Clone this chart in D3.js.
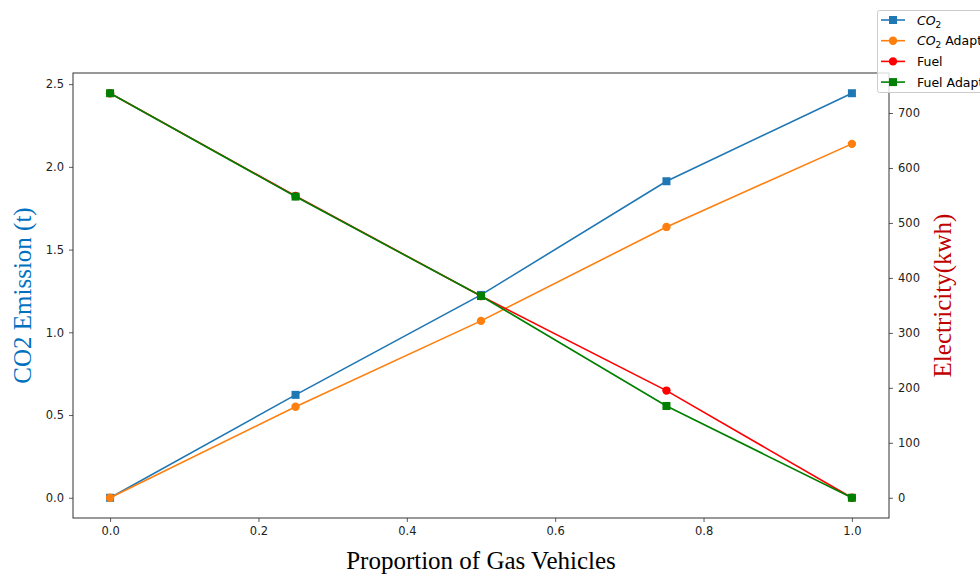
<!DOCTYPE html>
<html>
<head>
<meta charset="utf-8">
<script src="https://cdn.jsdelivr.net/npm/d3@7"></script>
<style>
  body { margin: 0; background: #fff; }
  svg { display: block; }
  .tick text { font-family: "DejaVu Sans", sans-serif; font-size: 11.5px; fill: #222; }
</style>
</head>
<body>
<svg id="chart" width="980" height="574"></svg>
<script>
// proportion of gas vehicles
let proportions = [0, 0.25, 0.5, 0.75, 1.0]
// left axis: CO2 emission (t)
let co2 = [0, 0.622, 1.226, 1.913, 2.445]
let co2Adapt = [0, 0.55, 1.069, 1.637, 2.139]
// right axis: electricity (kwh)
let fuel = [736, 549, 367, 195, 0]
let fuelAdapt = [736, 548, 367, 167, 0]

let xTicks = [0, 0.2, 0.4, 0.6, 0.8, 1.0]
let leftTicks = [0, 0.5, 1.0, 1.5, 2.0, 2.5]
let rightTicks = [0, 100, 200, 300, 400, 500, 600, 700]

let plotLeft = 73, plotRight = 889, plotTop = 73, plotBottom = 518

let svg = d3.select('svg#chart')

// matplotlib style 5% margins
let x = d3.scaleLinear().domain([-0.05, 1.05]).range([plotLeft, plotRight])
let yMax = d3.max(co2.concat(co2Adapt))
let yL = d3.scaleLinear().domain([-0.05 * yMax, 1.05 * yMax]).range([plotBottom, plotTop])
let rMax = d3.max(fuel.concat(fuelAdapt))
let yR = d3.scaleLinear().domain([-0.05 * rMax, 1.05 * rMax]).range([plotBottom, plotTop])

// axes
let gx = svg.append('g')
    .attr('transform', `translate(0,${plotBottom})`)
    .call(d3.axisBottom(x).tickValues(xTicks).tickFormat(d3.format('.1f')).tickSizeOuter(0).tickSize(4).tickPadding(5))
let gl = svg.append('g')
    .attr('transform', `translate(${plotLeft},0)`)
    .call(d3.axisLeft(yL).tickValues(leftTicks).tickFormat(d3.format('.1f')).tickSizeOuter(0).tickSize(4).tickPadding(5))
let gr = svg.append('g')
    .attr('transform', `translate(${plotRight},0)`)
    .call(d3.axisRight(yR).tickValues(rightTicks).tickSizeOuter(0).tickSize(4).tickPadding(5))
;[gx, gl, gr].forEach(g => {
    g.select('.domain').remove()
    g.selectAll('.tick line').attr('stroke', '#333').attr('stroke-width', 0.8)
})

// frame
svg.append('rect')
    .attr('x', plotLeft).attr('y', plotTop)
    .attr('width', plotRight - plotLeft).attr('height', plotBottom - plotTop)
    .attr('fill', 'none').attr('stroke', '#333').attr('stroke-width', 1)

// axis labels
svg.append('text')
    .attr('x', (plotLeft + plotRight) / 2).attr('y', 569)
    .attr('text-anchor', 'middle')
    .style('font-family', '"Liberation Serif", "Times New Roman", serif')
    .style('font-size', '25px')
    .text('Proportion of Gas Vehicles')
svg.append('text')
    .attr('transform', `translate(31,${(plotTop + plotBottom) / 2}) rotate(-90)`)
    .attr('text-anchor', 'middle')
    .attr('fill', '#0070c0')
    .style('font-family', '"Liberation Serif", "Times New Roman", serif')
    .style('font-size', '25px')
    .text('CO2 Emission (t)')
svg.append('text')
    .attr('transform', `translate(951,${(plotTop + plotBottom) / 2}) rotate(-90)`)
    .attr('text-anchor', 'middle')
    .attr('fill', '#c00000')
    .style('font-family', '"Liberation Serif", "Times New Roman", serif')
    .style('font-size', '25px')
    .text('Electricity(kwh)')

let series = [
    {name: 'co2', values: co2, scale: yL, color: '#1f77b4', marker: 'square'},
    {name: 'co2Adapt', values: co2Adapt, scale: yL, color: '#ff7f0e', marker: 'circle'},
    {name: 'fuel', values: fuel, scale: yR, color: '#ff0000', marker: 'circle'},
    {name: 'fuelAdapt', values: fuelAdapt, scale: yR, color: '#008000', marker: 'square'}
]

function drawMarker(g, type, color, cx, cy) {
    if (type === 'square') {
        g.append('rect')
            .attr('x', cx - 4).attr('y', cy - 4)
            .attr('width', 8).attr('height', 8)
            .attr('fill', color)
    } else {
        g.append('circle')
            .attr('cx', cx).attr('cy', cy).attr('r', 4.2)
            .attr('fill', color)
    }
}

for (let s of series) {
    let line = d3.line()
        .x((d, i) => x(proportions[i]))
        .y(d => s.scale(d))
    let g = svg.append('g')
    g.append('path')
        .datum(s.values)
        .attr('d', line)
        .attr('fill', 'none')
        .attr('stroke', s.color)
        .attr('stroke-width', 1.6)
    s.values.forEach((v, i) => drawMarker(g, s.marker, s.color, x(proportions[i]), s.scale(v)))
}

// legend
let legend = svg.append('g')
legend.append('rect')
    .attr('x', 877.5).attr('y', 10.5)
    .attr('width', 120).attr('height', 82)
    .attr('rx', 2)
    .attr('fill', '#fff').attr('fill-opacity', 0.8)
    .attr('stroke', '#ccc')
let labels = [
    {sub: true, extra: ''},
    {sub: true, extra: ' Adapt'},
    {sub: false, extra: 'Fuel'},
    {sub: false, extra: 'Fuel Adapt'}
]
series.forEach((s, i) => {
    let ly = 20 + i * 20.7
    legend.append('line')
        .attr('x1', 881).attr('x2', 905).attr('y1', ly).attr('y2', ly)
        .attr('stroke', s.color).attr('stroke-width', 1.6)
    drawMarker(legend, s.marker, s.color, 893, ly)
    let t = legend.append('text')
        .attr('x', 917).attr('y', ly + 4.5)
        .style('font-family', '"DejaVu Sans", sans-serif')
        .style('font-size', '12.5px')
    if (labels[i].sub) {
        t.append('tspan').style('font-style', 'italic').text('CO')
        t.append('tspan').attr('dy', 3).style('font-size', '9px').text('2')
        t.append('tspan').attr('dy', -3).text(labels[i].extra)
    } else {
        t.text(labels[i].extra)
    }
})
</script>
</body>
</html>
